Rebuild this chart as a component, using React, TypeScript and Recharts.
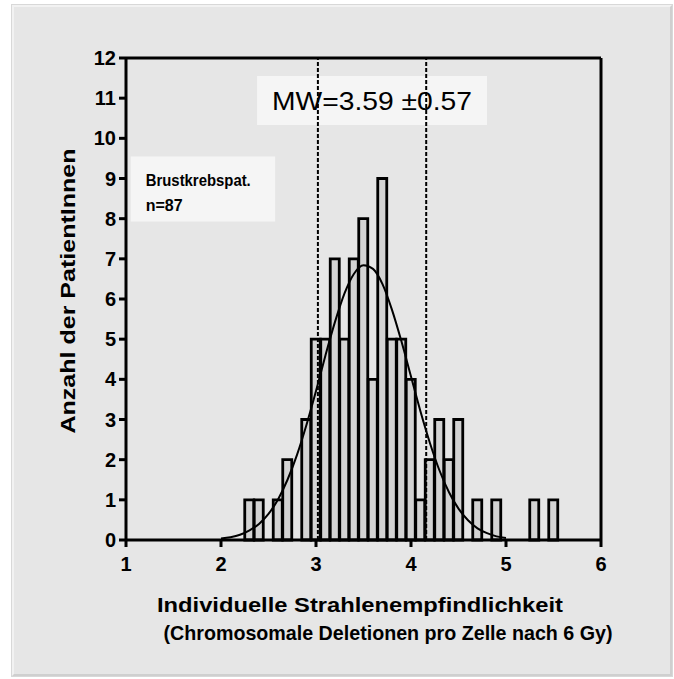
import React from "react";
import {
  ComposedChart,
  Bar,
  Line,
  XAxis,
  YAxis,
  ReferenceLine,
  ReferenceArea,
  Label,
} from "recharts";

// Histogram bins (bin width 0.1), only non-empty bins
const binCenters = [2.3, 2.4, 2.6, 2.7, 2.9, 3.0, 3.1, 3.2, 3.3, 3.4, 3.5, 3.6, 3.7, 3.8, 3.9, 4.0, 4.1, 4.2, 4.3, 4.4, 4.5, 4.7, 4.9, 5.3, 5.5];
const patientCounts = [1, 1, 1, 2, 3, 5, 5, 7, 5, 7, 8, 4, 9, 5, 5, 4, 1, 2, 3, 2, 3, 1, 1, 1, 1];

// Fitted normal curve
const fitX = [2.0, 2.1, 2.2, 2.3, 2.4, 2.5, 2.6, 2.7, 2.8, 2.9, 3.0, 3.1, 3.2, 3.3, 3.4, 3.5, 3.6, 3.7, 3.8, 3.9, 4.0, 4.1, 4.2, 4.3, 4.4, 4.5, 4.6, 4.7, 4.8, 4.9, 5.0];
const fitY = [0.04, 0.07, 0.13, 0.24, 0.4, 0.65, 1.01, 1.5, 2.12, 2.87, 3.71, 4.6, 5.43, 6.14, 6.63, 6.84, 6.75, 6.37, 5.73, 4.94, 4.07, 3.2, 2.41, 1.73, 1.19, 0.78, 0.49, 0.29, 0.17, 0.09, 0.05];

const xTicks = [1, 2, 3, 4, 5, 6];
const yTicks = [0, 1, 2, 3, 4, 5, 6, 7, 8, 9, 10, 11, 12];

const meanValue = 3.59;
const sdValue = 0.57;

const FONT = "'Liberation Sans', Arial, sans-serif";

// merge bins and curve into one table keyed by x
const keyOf = (v: number) => Math.round(v * 10);
const rowMap = new Map<number, { x: number; count: number | null; fit: number | null }>();
fitX.forEach((x, i) => rowMap.set(keyOf(x), { x, count: null, fit: fitY[i] }));
binCenters.forEach((x, i) => {
  const row = rowMap.get(keyOf(x));
  if (row) row.count = patientCounts[i];
  else rowMap.set(keyOf(x), { x, count: patientCounts[i], fit: null });
});
const chartData = [...rowMap.values()].sort((a, b) => a.x - b.x);

const tickStyle = { fontSize: 20, fontWeight: 700, fill: "#000", fontFamily: FONT };

export default function App() {
  return (
    <div style={{ position: "absolute", left: 0, top: 0, width: 674, height: 679, background: "#fff" }}>
      <div
        style={{
          position: "absolute",
          left: 12,
          top: 5,
          width: 660,
          height: 671,
          background: "#e6e6e6",
          boxSizing: "border-box",
          borderLeft: "2px solid #f2f2f2",
          borderTop: "2px solid #f2f2f2",
          borderRight: "2px solid #cfcfcf",
          borderBottom: "2px solid #cfcfcf",
          boxShadow: "0 0 0 1px #d8d8d8",
        }}
      />
      <div style={{ position: "absolute", left: 0, top: 0 }}>
        <ComposedChart
          width={674}
          height={679}
          data={chartData}
          margin={{ top: 58, right: 73, bottom: 49, left: 56 }}
          barCategoryGap={0}
          barGap={0}
        >
          <XAxis
            dataKey="x"
            type="number"
            domain={[1, 6]}
            ticks={xTicks}
            allowDataOverflow
            height={90}
            tick={tickStyle}
            tickSize={7}
            tickMargin={10}
            stroke="#000"
            strokeWidth={3}
          >
            <Label
              content={(props: any) => {
                const vb = props.viewBox || {};
                const cy = vb.y || 540;
                return (
                  <g fontFamily={FONT} fontWeight={700} fontSize={21} fill="#000" textAnchor="middle">
                    <text x={360} y={cy + 72} textLength={406} lengthAdjust="spacingAndGlyphs">
                      Individuelle Strahlenempfindlichkeit
                    </text>
                    <text x={388} y={cy + 100} textLength={449} lengthAdjust="spacingAndGlyphs">
                      (Chromosomale Deletionen pro Zelle nach 6 Gy)
                    </text>
                  </g>
                );
              }}
            />
          </XAxis>
          <YAxis
            type="number"
            domain={[0, 12]}
            ticks={yTicks}
            interval={0}
            width={70}
            tick={tickStyle}
            tickSize={7}
            tickMargin={3}
            stroke="#000"
            strokeWidth={3}
          >
            <Label
              content={() => {
                const cx = 75;
                const cy = 291;
                return (
                  <text
                    x={cx}
                    y={cy}
                    transform={`rotate(-90, ${cx}, ${cy})`}
                    textAnchor="middle"
                    fontFamily={FONT}
                    fontWeight={700}
                    fontSize={21}
                    fill="#000"
                    textLength={285}
                    lengthAdjust="spacingAndGlyphs"
                  >
                    Anzahl der PatientInnen
                  </text>
                );
              }}
            />
          </YAxis>

          <ReferenceLine x={meanValue - sdValue} stroke="#000" strokeWidth={2} strokeDasharray="4 2" ifOverflow="visible" />
          <ReferenceLine x={meanValue + sdValue} stroke="#000" strokeWidth={2} strokeDasharray="4 2" ifOverflow="visible" />
          <ReferenceLine y={12} stroke="#000" strokeWidth={3} />
          <ReferenceLine x={6} stroke="#000" strokeWidth={3} />

          <ReferenceArea
            x1={2.38}
            x2={4.8}
            y1={10.33}
            y2={11.55}
            fill="#f5f5f5"
            fillOpacity={1}
            stroke="none"
            label={(props: any) => {
              const vb = props.viewBox || {};
              return (
                <text
                  x={vb.x + vb.width / 2}
                  y={vb.y + vb.height / 2 + 9}
                  textAnchor="middle"
                  fontFamily={FONT}
                  fontSize={26}
                  fill="#000"
                  textLength={200}
                  lengthAdjust="spacingAndGlyphs"
                >
                  {`MW=${meanValue} \u00b1${sdValue}`}
                </text>
              );
            }}
          />
          <ReferenceArea
            x1={1.05}
            x2={2.57}
            y1={7.93}
            y2={9.55}
            fill="#f5f5f5"
            fillOpacity={1}
            stroke="none"
            label={(props: any) => {
              const vb = props.viewBox || {};
              return (
                <g fontFamily={FONT} fontWeight={700} fontSize={16} fill="#000">
                  <text x={vb.x + 15} y={vb.y + 30} textLength={105} lengthAdjust="spacingAndGlyphs">
                    Brustkrebspat.
                  </text>
                  <text x={vb.x + 15} y={vb.y + 55}>n=87</text>
                </g>
              );
            }}
          />

          <Bar
            dataKey="count"
            fill="#d3d3d3"
            stroke="#000"
            strokeWidth={2.8}
            isAnimationActive={false}
          />
          <Line
            dataKey="fit"
            type="monotone"
            stroke="#000"
            strokeWidth={2}
            dot={false}
            activeDot={false}
            isAnimationActive={false}
          />
        </ComposedChart>
      </div>
    </div>
  );
}
